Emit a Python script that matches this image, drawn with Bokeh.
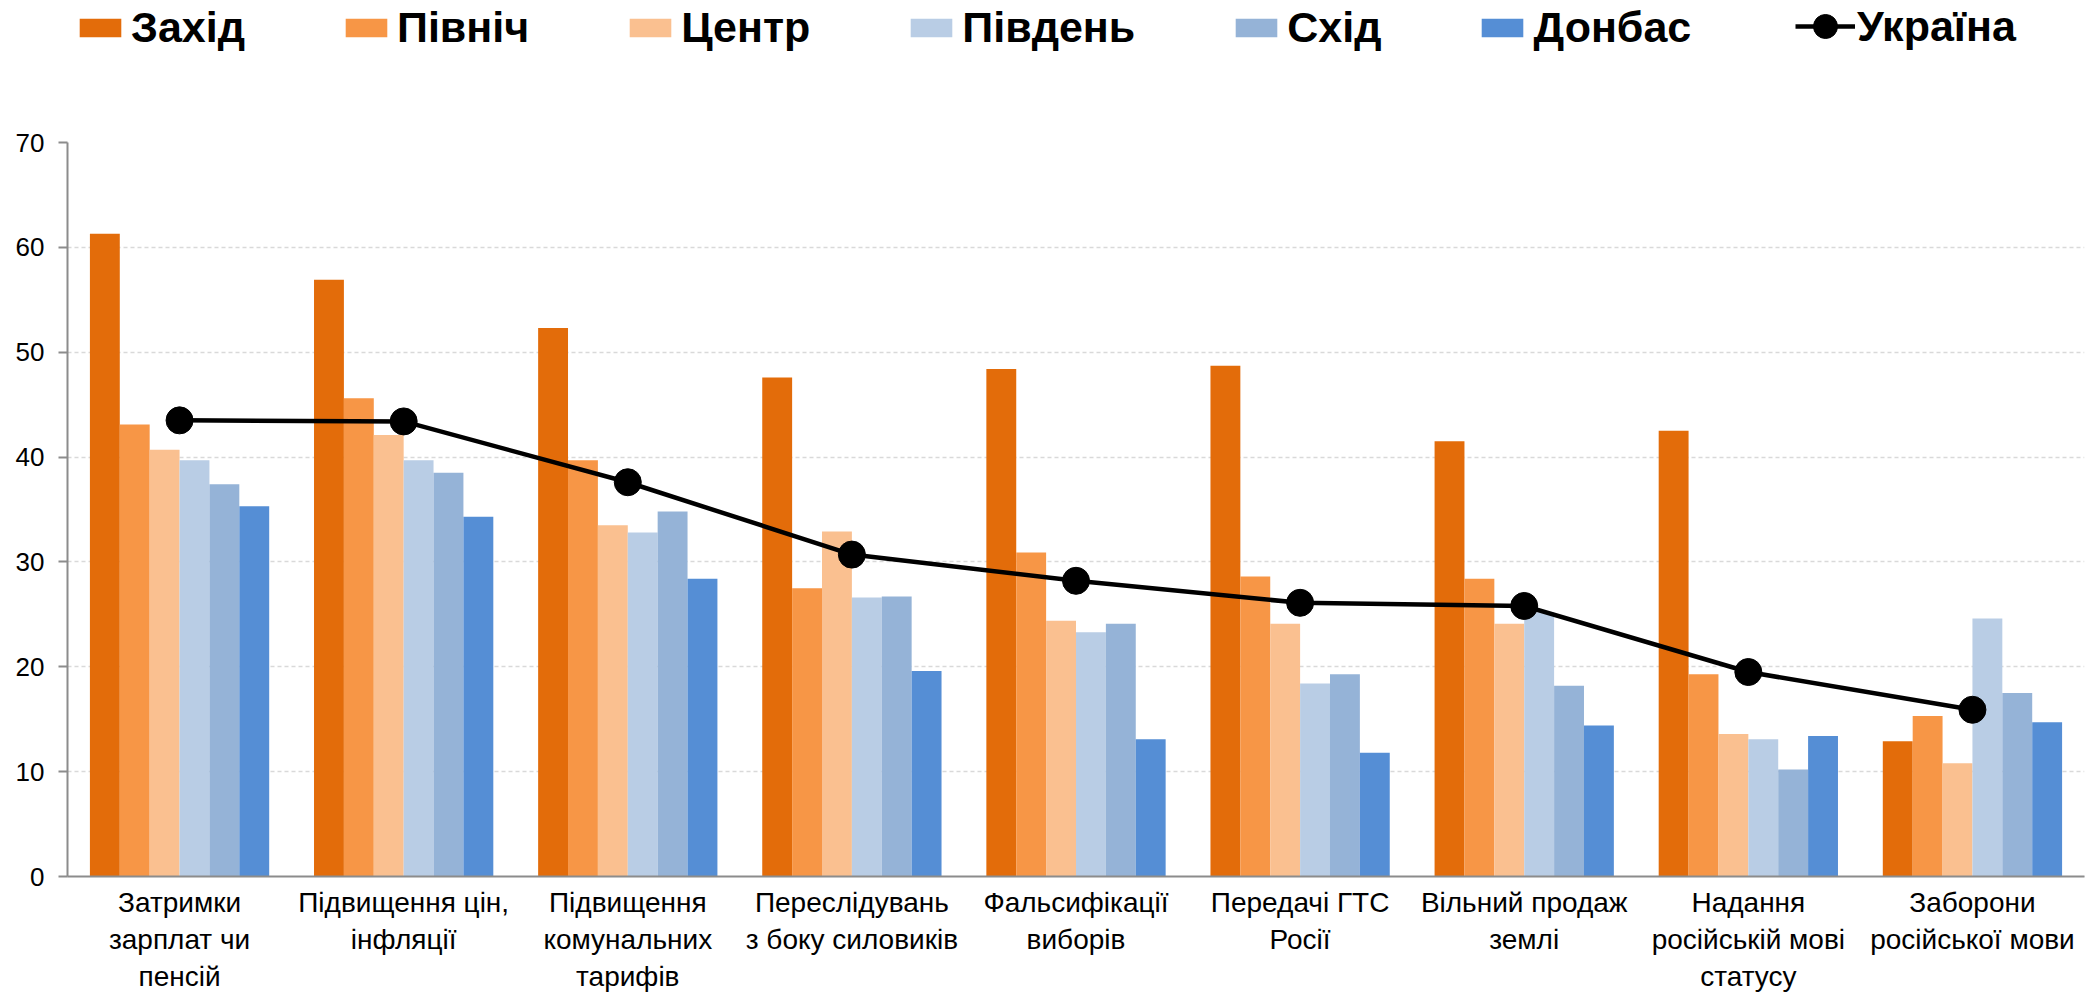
from bokeh.plotting import figure
from bokeh.layouts import column
from bokeh.models import (ColumnDataSource, FixedTicker, Legend, LegendItem, Range1d, Arrow)
from bokeh.embed import file_html
from bokeh.resources import INLINE
import numpy as np

categories = [
    "Затримки\nзарплат чи\nпенсій",
    "Підвищення цін,\nінфляції",
    "Підвищення\nкомунальних\nтарифів",
    "Переслідувань\nз боку силовиків",
    "Фальсифікації\nвиборів",
    "Передачі ГТС\nРосії",
    "Вільний продаж\nземлі",
    "Надання\nросійській мові\nстатусу",
    "Заборони\nросійської мови",
]

series_names = ["Захід", "Північ", "Центр", "Південь", "Схід", "Донбас"]
zakhid = [61.3, 56.9, 52.3, 47.6, 48.4, 48.7, 41.5, 42.5, 12.9]
pivnich = [43.1, 45.6, 39.7, 27.5, 30.9, 28.6, 28.4, 19.3, 15.3]
tsentr = [40.7, 42.1, 33.5, 32.9, 24.4, 24.1, 24.1, 13.6, 10.8]
pivden = [39.7, 39.7, 32.8, 26.6, 23.3, 18.4, 25.2, 13.1, 24.6]
skhid = [37.4, 38.5, 34.8, 26.7, 24.1, 19.3, 18.2, 10.2, 17.5]
donbas = [35.3, 34.3, 28.4, 19.6, 13.1, 11.8, 14.4, 13.4, 14.7]
ukraina_name = "Україна"
ukraina = [43.5, 43.4, 37.6, 30.7, 28.2, 26.1, 25.8, 19.5, 15.9]
y_ticks = [0, 10, 20, 30, 40, 50, 60, 70]

colors = ["#E36C0A", "#F79646", "#FAC090", "#B9CDE5", "#95B3D7", "#558ED5"]
all_series = [zakhid, pivnich, tsentr, pivden, skhid, donbas]

n = len(categories)
centers = np.arange(n) + 0.5
bw = 0.8 / 6

W = 2096
LEG_H = 60
H = 995 - LEG_H
TOP, LEFT, RIGHT = 142 - LEG_H, 67, 12
FRAME_BOTTOM = 876 - LEG_H

# ---------------- legend strip ----------------
lg = figure(width=W, height=LEG_H, output_backend="svg", toolbar_location=None,
            x_axis_type=None, y_axis_type=None,
            x_range=Range1d(0, 1), y_range=Range1d(0, 1),
            min_border=0)
lg.outline_line_color = None
lg.xgrid.grid_line_color = None
lg.ygrid.grid_line_color = None

# off-screen stand-ins that only provide the legend swatches
leg_items = []
for name, col in zip(series_names, colors):
    r = lg.vbar(x=[-10], top=[-5], bottom=[-6], width=0.1, fill_color=col, line_color=None)
    leg_items.append(LegendItem(label=name, renderers=[r]))
legend1 = Legend(items=leg_items, orientation="horizontal", location=(7, 8),
                 glyph_width=52, glyph_height=23, label_standoff=5, spacing=95,
                 padding=0, margin=0, border_line_color=None,
                 background_fill_alpha=0, label_height=23,
                 label_text_font="Liberation Sans", label_text_font_style="bold",
                 label_text_font_size="43px", label_text_color="black")
lg.add_layout(legend1, "center")

ll = lg.line(x=[-10, -9], y=[-10, -10], line_color="black", line_width=4.5)
ls = lg.scatter(x=[-10], y=[-10], marker="circle", size=27, fill_color="black", line_color="black")
legend2 = Legend(items=[LegendItem(label=ukraina_name, renderers=[ll, ls])],
                 orientation="horizontal", location=(1795 - LEFT, 2),
                 glyph_width=60, glyph_height=64, label_standoff=2,
                 padding=0, margin=0, border_line_color=None,
                 background_fill_alpha=0,
                 label_text_font="Liberation Sans", label_text_font_style="bold",
                 label_text_font_size="43px", label_text_color="black")
lg.add_layout(legend2, "center")

# ---------------- main chart ----------------
p = figure(width=W, height=H, output_backend="svg", toolbar_location=None,
           x_range=Range1d(0, n), y_range=Range1d(0, 70),
           min_border_left=LEFT, min_border_right=RIGHT, min_border_top=TOP,
           min_border_bottom=H - FRAME_BOTTOM)
p.outline_line_color = None
p.background_fill_color = "white"
p.border_fill_color = "white"

for j, (name, vals, col) in enumerate(zip(series_names, all_series, colors)):
    src = ColumnDataSource(dict(x=centers + (j - 2.5) * bw, top=vals))
    p.vbar(x="x", top="top", width=bw, bottom=0, source=src,
           fill_color=col, line_color=None)

lsrc = ColumnDataSource(dict(x=centers, y=ukraina))
p.line("x", "y", source=lsrc, line_color="black", line_width=4.5)
p.scatter("x", "y", source=lsrc, marker="circle", size=27,
          fill_color="black", line_color="black")

# boundary tick marks below the x axis
frame_h = FRAME_BOTTOM - TOP
tick_len = 9 * 70.0 / frame_h
for k in range(n + 1):
    p.add_layout(Arrow(end=None, x_start=k, y_start=0, x_end=k, y_end=-tick_len,
                       line_color="#8c8c8c", line_width=2))

xa = p.xaxis[0]
xa.ticker = FixedTicker(ticks=list(centers))
xa.major_label_overrides = {float(c): lab for c, lab in zip(centers, categories)}
xa.major_tick_line_color = None
xa.major_tick_out = 0
xa.major_tick_in = 0
xa.minor_tick_line_color = None
xa.minor_tick_out = 0
xa.minor_tick_in = 0
xa.axis_line_color = "#8c8c8c"
xa.axis_line_width = 2
xa.major_label_text_font = "Liberation Sans"
xa.major_label_text_font_size = "28px"
xa.major_label_text_color = "black"
xa.major_label_standoff = 10

ya = p.yaxis[0]
ya.ticker = FixedTicker(ticks=y_ticks)
ya.minor_tick_line_color = None
ya.major_tick_out = 9
ya.major_tick_in = 0
ya.major_tick_line_color = "#8c8c8c"
ya.major_tick_line_width = 2
ya.axis_line_color = "#8c8c8c"
ya.axis_line_width = 2
ya.major_label_text_font = "Liberation Sans"
ya.major_label_text_font_size = "26px"
ya.major_label_text_color = "black"
ya.major_label_standoff = 14

p.xgrid.grid_line_color = None
p.ygrid.grid_line_color = "#d9d9d9"
p.ygrid.grid_line_dash = "4 3"
p.ygrid.grid_line_width = 1.5

layout = column(lg, p, spacing=0)
open("out.html", "w").write(file_html(layout, INLINE))
